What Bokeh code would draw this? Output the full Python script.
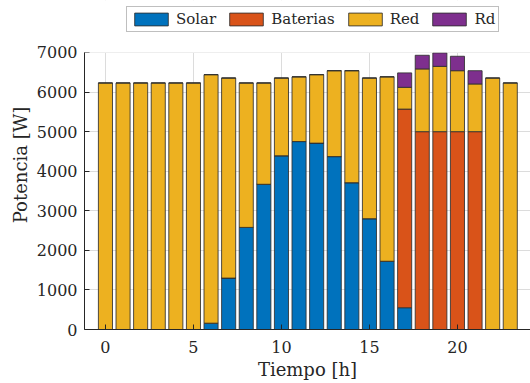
from bokeh.plotting import figure
from bokeh.models import ColumnDataSource, Legend, LegendItem, FixedTicker, Range1d, BoxAnnotation
from bokeh.embed import file_html
from bokeh.resources import INLINE

# Hourly power balance [W]
hours = list(range(24))
solar = [0, 0, 0, 0, 0, 0, 160, 1300, 2580, 3670, 4390, 4750,
         4710, 4370, 3710, 2800, 1725, 550, 0, 0, 0, 0, 0, 0]
baterias = [0, 0, 0, 0, 0, 0, 0, 0, 0, 0, 0, 0,
            0, 0, 0, 0, 0, 5020, 5000, 5000, 5000, 5000, 0, 0]
red = [6230, 6230, 6230, 6230, 6230, 6230, 6280, 5055, 3650, 2560, 1965, 1635,
       1730, 2170, 2830, 3555, 4660, 550, 1585, 1650, 1540, 1205, 6355, 6230]
rd = [0, 0, 0, 0, 0, 0, 0, 0, 0, 0, 0, 0,
      0, 0, 0, 0, 0, 365, 345, 340, 365, 335, 0, 0]

series = ["Solar", "Baterias", "Red", "Rd"]
colors = ["#0072BD", "#D95319", "#EDB120", "#7E2F8E"]
x_ticks = [0, 5, 10, 15, 20]
y_ticks = [0, 1000, 2000, 3000, 4000, 5000, 6000, 7000]
y_top = 7000

source = ColumnDataSource(dict(h=hours, Solar=solar, Baterias=baterias, Red=red, Rd=rd))

FONT = "DejaVu Serif"
INK = "#262626"

# the frame reaches the top of the canvas so the legend can sit above the 0..7000 axes box
p = figure(width=530, height=383, output_backend="svg", toolbar_location=None,
           x_range=Range1d(-1.19, 24.15), y_range=Range1d(0, 8314),
           min_border_left=84, min_border_right=0, min_border_top=0, min_border_bottom=54)
p.outline_line_color = None
p.background_fill_color = "white"
p.border_fill_color = "white"

renderers = p.vbar_stack(series, x="h", width=0.8, source=source, fill_color=colors,
                         line_color="#303030", line_alpha=0.85, line_width=1)

# axes
for ax in (p.xaxis[0], p.yaxis[0]):
    ax.axis_line_color = INK
    ax.axis_line_width = 1
    ax.major_tick_line_color = INK
    ax.major_tick_in = 5
    ax.major_tick_out = 0
    ax.minor_tick_line_color = None
    ax.major_label_text_font = FONT
    ax.major_label_text_font_size = "16px"
    ax.major_label_text_color = INK
    ax.axis_label_text_font = FONT
    ax.axis_label_text_font_size = "18px"
    ax.axis_label_text_font_style = "normal"
    ax.axis_label_text_color = INK

p.xaxis.ticker = FixedTicker(ticks=x_ticks)
p.yaxis.ticker = FixedTicker(ticks=y_ticks)
p.yaxis.bounds = (0, y_top)
p.xaxis.axis_label = "Tiempo [h]"
p.yaxis.axis_label = "Potencia [W]"
p.xaxis.major_label_standoff = 11
p.yaxis.major_label_standoff = 7
p.xaxis.axis_label_standoff = 3
p.yaxis.axis_label_standoff = 3

# grid
for g in (p.xgrid[0], p.ygrid[0]):
    g.grid_line_color = "#dcdcdc"
    g.grid_line_width = 1
p.xgrid.ticker = FixedTicker(ticks=x_ticks)
p.ygrid.ticker = FixedTicker(ticks=y_ticks)

# blank band above the axes box
p.add_layout(BoxAnnotation(bottom=y_top, fill_color="white", fill_alpha=1,
                           line_color=None, level="annotation"))

legend = Legend(items=[LegendItem(label=s, renderers=[r]) for s, r in zip(series, renderers)],
                orientation="horizontal", location=(42, 297),
                label_text_font=FONT, label_text_font_size="15px", label_text_color=INK,
                glyph_width=42, glyph_height=16, label_height=16, label_standoff=4,
                spacing=9, padding=3, margin=0,
                border_line_color="#808080", border_line_width=1,
                background_fill_color="white", background_fill_alpha=1)
p.add_layout(legend, "center")

open("out.html", "w").write(file_html(p, INLINE))
